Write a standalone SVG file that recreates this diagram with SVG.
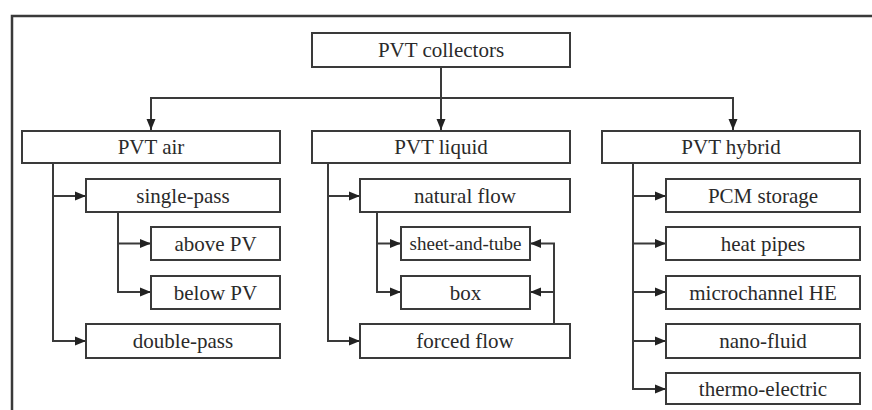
<svg xmlns="http://www.w3.org/2000/svg" width="872" height="410" viewBox="0 0 872 410" font-family="'Liberation Serif', 'DejaVu Serif', 'Times New Roman', Times, serif">
<style>
.b{fill:#fff;stroke:#3a3a3a;stroke-width:2}
.t{font-family:'Liberation Serif','DejaVu Serif','Times New Roman',Times,serif;font-size:21px;fill:#2a2a2a;text-anchor:middle}
.c{fill:none;stroke:#3a3a3a;stroke-width:2}
.f{fill:none;stroke:#3a3a3a;stroke-width:2.5}
</style>
<defs>
<marker id="a" markerUnits="userSpaceOnUse" markerWidth="12" markerHeight="10" refX="11" refY="5" orient="auto">
<path d="M0,0.5 L11,5 L0,9.5 Z" fill="#222"/>
</marker>
</defs>
<rect width="872" height="410" fill="#fff"/>
<path class="f" d="M12,410 V16 H872"/>
<g id="connectors">
<path class="c" d="M441,67 V130" marker-end="url(#a)"/>
<path class="c" d="M151,130 V98 H733 V130" marker-end="url(#a)"/>
<path class="c" d="M151,98 V130" marker-end="url(#a)"/>
<path class="c" d="M53,163 V341 H86" marker-end="url(#a)"/>
<path class="c" d="M53,196 H86" marker-end="url(#a)"/>
<path class="c" d="M118,212 V292 H151" marker-end="url(#a)"/>
<path class="c" d="M118,243.5 H151" marker-end="url(#a)"/>
<path class="c" d="M328,163 V341 H360" marker-end="url(#a)"/>
<path class="c" d="M328,196 H360" marker-end="url(#a)"/>
<path class="c" d="M377,212 V292 H401" marker-end="url(#a)"/>
<path class="c" d="M377,243.5 H401" marker-end="url(#a)"/>
<path class="c" d="M554,324 V243.5 H530" marker-end="url(#a)"/>
<path class="c" d="M554,292 H530" marker-end="url(#a)"/>
<path class="c" d="M633,163 V389 H666" marker-end="url(#a)"/>
<path class="c" d="M633,196 H666" marker-end="url(#a)"/>
<path class="c" d="M633,243.5 H666" marker-end="url(#a)"/>
<path class="c" d="M633,292 H666" marker-end="url(#a)"/>
<path class="c" d="M633,341 H666" marker-end="url(#a)"/>
</g>
<g id="pvt-collectors"><rect class="b" x="312" y="33" width="258" height="34"/><text class="t" x="441" y="57">PVT collectors</text></g>
<g id="pvt-air"><rect class="b" x="22" y="131" width="258" height="32"/><text class="t" x="151" y="154">PVT air</text></g>
<g id="pvt-liquid"><rect class="b" x="312" y="131" width="258" height="32"/><text class="t" x="441" y="154">PVT liquid</text></g>
<g id="pvt-hybrid"><rect class="b" x="602" y="131" width="258" height="32"/><text class="t" x="731" y="154">PVT hybrid</text></g>
<g id="single-pass"><rect class="b" x="86" y="179" width="194" height="33"/><text class="t" x="183" y="203">single-pass</text></g>
<g id="above-pv"><rect class="b" x="151" y="227" width="129" height="33"/><text class="t" x="215.5" y="251">above PV</text></g>
<g id="below-pv"><rect class="b" x="151" y="276" width="129" height="33"/><text class="t" x="215.5" y="300">below PV</text></g>
<g id="double-pass"><rect class="b" x="86" y="324" width="194" height="34"/><text class="t" x="183" y="348">double-pass</text></g>
<g id="natural-flow"><rect class="b" x="360" y="179" width="210" height="33"/><text class="t" x="465" y="203">natural flow</text></g>
<g id="sheet-and-tube"><rect class="b" x="401" y="227" width="129" height="33"/><text class="t" x="465.5" y="250" style="font-size:19px">sheet-and-tube</text></g>
<g id="box"><rect class="b" x="401" y="276" width="129" height="33"/><text class="t" x="465.5" y="300">box</text></g>
<g id="forced-flow"><rect class="b" x="360" y="324" width="210" height="34"/><text class="t" x="465" y="348">forced flow</text></g>
<g id="pcm-storage"><rect class="b" x="666" y="179" width="194" height="33"/><text class="t" x="763" y="203">PCM storage</text></g>
<g id="heat-pipes"><rect class="b" x="666" y="227" width="194" height="33"/><text class="t" x="763" y="251">heat pipes</text></g>
<g id="microchannel-he"><rect class="b" x="666" y="276" width="194" height="33"/><text class="t" x="763" y="300">microchannel HE</text></g>
<g id="nano-fluid"><rect class="b" x="666" y="324" width="194" height="34"/><text class="t" x="763" y="348">nano-fluid</text></g>
<g id="thermo-electric"><rect class="b" x="666" y="373" width="194" height="31"/><text class="t" x="763" y="396">thermo-electric</text></g>
</svg>
